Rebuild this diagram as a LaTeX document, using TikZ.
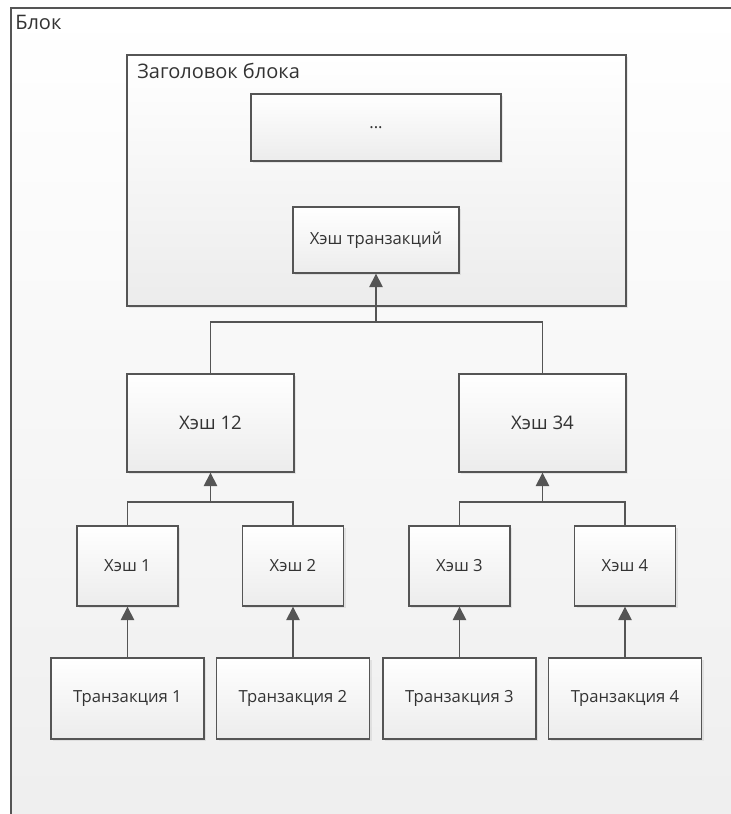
\documentclass[tikz,border=0pt]{standalone}
\usepackage{fontspec}
\setmainfont{Open Sans}
\usetikzlibrary{arrows.meta,positioning,shadows}

\definecolor{linegray}{HTML}{555555}
\definecolor{boxbottom}{HTML}{ECECEC}
\definecolor{pagebottom}{HTML}{EEEEEE}
\definecolor{textgray}{HTML}{333333}

\tikzset{
	hashbox/.style={draw=linegray, line width=1pt, top color=white, bottom color=boxbottom,
		drop shadow={shadow xshift=1.6pt, shadow yshift=-1.6pt, opacity=0.15},
		inner sep=0pt, text=textgray, font=\fontsize{12.5}{14}\selectfont},
	link/.style={draw=linegray, line width=1pt},
	uparrow/.style={link, -{Triangle[length=10pt,width=10pt]}},
}

\begin{document}
\begin{tikzpicture}[x=0.75pt,y=-0.75pt]
					\useasboundingbox (0,0) rectangle (731,814);
					\clip (0,0) rectangle (731,814);
					
					% outer block
					\draw[linegray, line width=1pt, top color=white, bottom color=pagebottom]
						(11,8) rectangle (770,850);
					\node[anchor=base west, inner sep=0pt, text=textgray, font=\fontsize{15}{17}\selectfont] (blok) at (15,29) {Блок};
					
					% block header
					\draw[linegray, line width=1pt, top color=white, bottom color=boxbottom,
						drop shadow={shadow xshift=1.6pt, shadow yshift=-1.6pt, opacity=0.15}]
						(127,55) rectangle (626,306);
					\node[anchor=base west, inner sep=0pt, text=textgray, font=\fontsize{15}{17}\selectfont] (header) at (137,78) {Заголовок блока};
					
					\node[hashbox, minimum width=250*0.75pt, minimum height=67*0.75pt] (dots) at (376,127.5) {...};
					\node[hashbox, minimum width=166*0.75pt, minimum height=66*0.75pt] (txhash) at (376,240) {Хэш транзакций};
					
					% level 2
					\node[hashbox, minimum width=167*0.75pt, minimum height=98*0.75pt, font=\fontsize{14}{16}\selectfont] (h12) at (210.5,423) {Хэш 12};
					\node[hashbox, minimum width=167*0.75pt, minimum height=98*0.75pt, font=\fontsize{14}{16}\selectfont] (h34) at (542.5,423) {Хэш 34};
					
					% level 1
					\node[hashbox, minimum width=101*0.75pt, minimum height=80*0.75pt] (h1) at (127.5,566) {Хэш 1};
					\node[hashbox, minimum width=101*0.75pt, minimum height=80*0.75pt] (h2) at (293,566) {Хэш 2};
					\node[hashbox, minimum width=101*0.75pt, minimum height=80*0.75pt] (h3) at (459.5,566) {Хэш 3};
					\node[hashbox, minimum width=101*0.75pt, minimum height=80*0.75pt] (h4) at (625,566) {Хэш 4};
					
					% transactions
					\node[hashbox, minimum width=153*0.75pt, minimum height=81*0.75pt] (tx1) at (127.5,698.5) {Транзакция 1};
					\node[hashbox, minimum width=153*0.75pt, minimum height=81*0.75pt] (tx2) at (293,698.5) {Транзакция 2};
					\node[hashbox, minimum width=153*0.75pt, minimum height=81*0.75pt] (tx3) at (459.5,698.5) {Транзакция 3};
					\node[hashbox, minimum width=153*0.75pt, minimum height=81*0.75pt] (tx4) at (625,698.5) {Транзакция 4};
					
					\draw[uparrow] (tx1) -- (h1);
					\draw[uparrow] (tx2) -- (h2);
					\draw[uparrow] (tx3) -- (h3);
					\draw[uparrow] (tx4) -- (h4);
					
					% joins
					\coordinate (j12) at (h12.south |- 0,502);
					\coordinate (j34) at (h34.south |- 0,502);
					\coordinate (jtop) at (txhash.south |- 0,322);
					
					\draw[link] (h1.north) |- (j12) -| (h2.north);
					\draw[uparrow] (j12) -- (h12.south);
					\draw[link] (h3.north) |- (j34) -| (h4.north);
					\draw[uparrow] (j34) -- (h34.south);
					\draw[link] (h12.north) |- (jtop) -| (h34.north);
					\draw[uparrow] (jtop) -- (txhash.south);
				\end{tikzpicture}
\end{document}
